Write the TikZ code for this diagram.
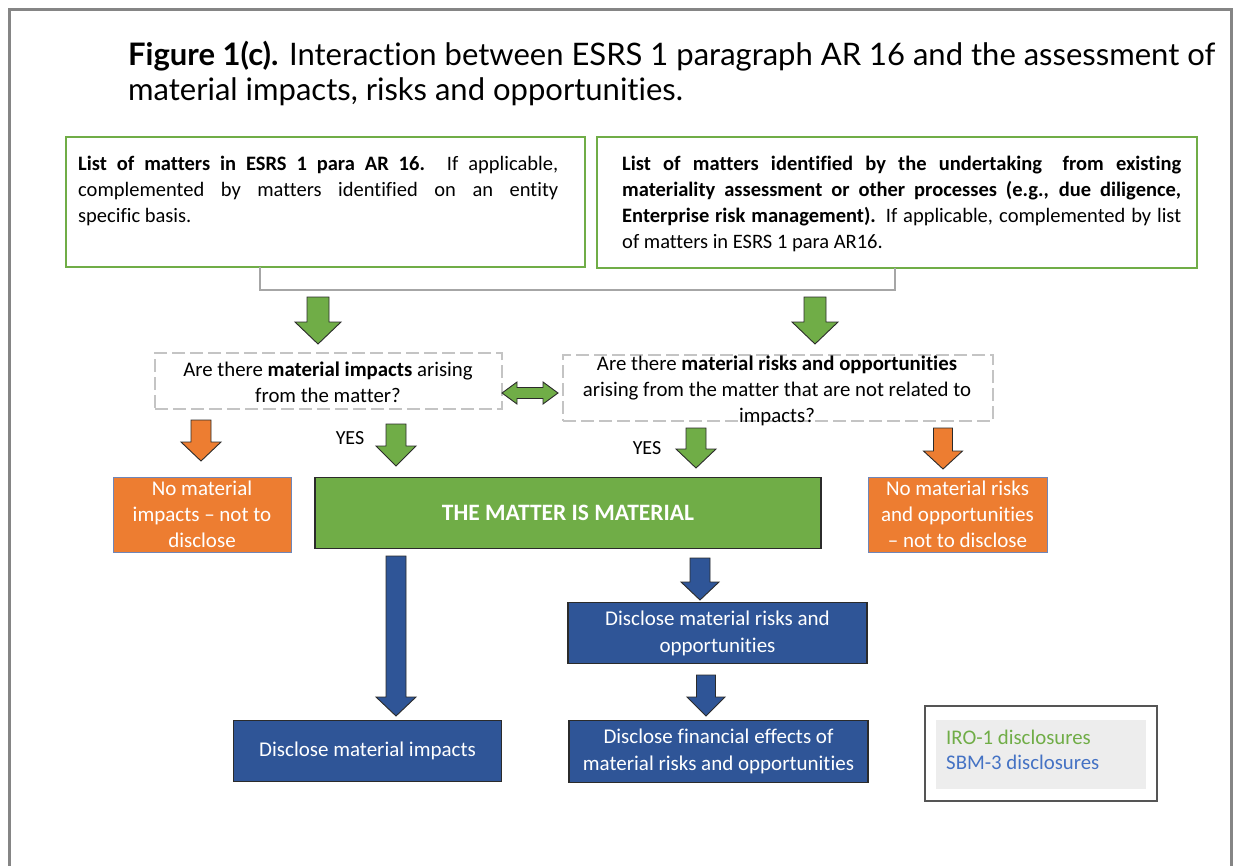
\documentclass[tikz,border=0pt]{standalone}
\usepackage{fontspec}
\setmainfont[Ligatures=NoCommon]{Carlito}
\newfontfamily\titlefont[Ligatures=NoCommon]{Lato}
\definecolor{mgreen}{HTML}{70AD47}
\definecolor{morange}{HTML}{ED7D31}
\definecolor{mblue}{HTML}{2F5597}
\definecolor{lblue}{HTML}{4472C4}
\definecolor{conngray}{HTML}{A6A6A6}
\definecolor{framegray}{HTML}{858585}
\definecolor{dashgray}{HTML}{C4C4C4}
\definecolor{legfill}{HTML}{EDEDED}
\definecolor{outl}{HTML}{2B2B2B}
\definecolor{obord}{HTML}{6F86B8}
\newcommand\blockdown[7]{%
  \draw[#7] (#1-#4,#2) -- (#1+#4,#2) -- (#1+#4,#3-#6) -- (#1+#5,#3-#6) -- (#1,#3)
    -- (#1-#5,#3-#6) -- (#1-#4,#3-#6) -- cycle;}
\tikzset{
  boxbase/.style={inner sep=0pt, outer sep=0pt, anchor=center},
  topbox/.style={boxbase, draw=mgreen, line width=1.8pt},
  qbox/.style={boxbase, draw=dashgray, line width=1.6pt, dash pattern=on 13pt off 5pt},
  orbox/.style={boxbase, fill=morange, draw=obord, line width=1pt, text=white, align=center,
     font=\fontsize{21}{26}\selectfont},
  grbox/.style={boxbase, fill=mgreen, draw=outl, line width=1.2pt, text=white,
     font=\bfseries\fontsize{23.5}{26}\selectfont},
  blbox/.style={boxbase, fill=mblue, draw=outl, line width=1.2pt, text=white, align=center,
     font=\fontsize{21}{27}\selectfont},
  boxtext/.style={inner sep=0pt, align=justify, font=\fontsize{20.5}{26}\selectfont, anchor=north west},
  qtext/.style={inner sep=0pt, align=center, font=\fontsize{20.8}{26}\selectfont},
  yestext/.style={inner sep=0pt, font=\fontsize{20}{22}\selectfont},
  garrow/.style={fill=mgreen, draw=outl, line width=0.9pt, line join=miter},
  oarrow/.style={fill=morange, draw=outl, line width=0.9pt, line join=miter},
  barrow/.style={fill=mblue, draw=outl, line width=0.9pt, line join=miter},
  conn/.style={draw=conngray, line width=2.6pt},
  frameline/.style={draw=framegray, line width=3pt},
  titletext/.style={inner sep=0pt, anchor=base west, font=\titlefont\fontsize{31}{35}\selectfont},
  legtext/.style={inner sep=0pt, anchor=base west, font=\fontsize{20.8}{25}\selectfont},
}
\begin{document}
\begin{tikzpicture}[x=1pt,y=-1pt]
\useasboundingbox (0,0) rectangle (1233,865);
% frame
\draw[frameline] (9,866) -- (9,9) -- (1231,9) -- (1231,866);
% title
\node[titletext] (title1) at (128,65) {\textbf{Figure 1(c).} Interaction between ESRS 1 paragraph AR 16 and the assessment of};
\node[titletext] (title2) at (128,100) {material impacts, risks and opportunities.};
% top boxes
\node[topbox, minimum width=519pt, minimum height=130pt] (tl) at (325.5,202) {};
\node[topbox, minimum width=600pt, minimum height=131pt] (tr) at (897,202.5) {};
\node[boxtext, text width=480pt] (tlt) at (78,155.5) {\textbf{List of matters in ESRS 1 para AR 16.} If applicable,\linebreak complemented by matters identified on an entity\linebreak specific basis.};
\node[boxtext, text width=559pt] (trt) at (622,155.5) {\textbf{List of matters identified by the undertaking\quad from existing\linebreak materiality assessment or other processes (e.g., due diligence,\linebreak Enterprise risk management).} If applicable, complemented by list\linebreak of matters in ESRS 1 para AR16.};
% connector
\coordinate (c1) at (260,290);
\coordinate (c2) at (895,290);
\draw[conn] (tl.south -| c1) -- (c1) -- (c2) -- (tr.south -| c2);
% green arrows to questions
\blockdown{318}{297}{344}{11}{23}{22}{garrow}
\blockdown{815}{297}{344}{11}{23}{22}{garrow}
% question boxes
\node[qbox, minimum width=347pt, minimum height=56pt] (q1) at (328.5,381) {};
\node[qbox, minimum width=430pt, minimum height=66pt] (q2) at (778,388) {};
\node[qtext] (q1t) at (328,382) {Are there \textbf{material impacts} arising\\from the matter?};
\node[qtext] (q2t) at (777,391) {Are there \textbf{material risks and opportunities}\\arising from the matter that are not related to\\impacts?};
% double arrow
\draw[garrow] (502,393) -- (517,382) -- (517,387.5) -- (543,387.5) -- (543,382)
  -- (558,393) -- (543,404) -- (543,398.5) -- (517,398.5) -- (517,404) -- cycle;
% decision arrows
\blockdown{201}{420}{461}{10}{20}{19}{oarrow}
\blockdown{396}{424}{466}{10}{20}{20}{garrow}
\blockdown{696}{428}{468}{10}{20}{19}{garrow}
\blockdown{943}{428}{469}{9.5}{19.5}{18}{oarrow}
\node[yestext] (yes1) at (350,438) {YES};
\node[yestext] (yes2) at (647,448) {YES};
% outcome boxes
\node[orbox, minimum width=178pt, minimum height=75pt] (nol) at (202,514.5) {No material\\impacts -- not to\\disclose};
\node[grbox, minimum width=506pt, minimum height=71pt] (mat) at (568,513) {THE MATTER IS MATERIAL};
\node[orbox, minimum width=179pt, minimum height=75pt] (nor) at (957.5,514.5) {No material risks\\and opportunities\\-- not to disclose};
% blue arrows
\blockdown{396}{556}{716}{10}{20}{19}{barrow}
\blockdown{700}{558}{600}{10}{19}{18}{barrow}
\blockdown{706}{675}{716}{9.5}{19}{19}{barrow}
% blue boxes
\node[blbox, minimum width=299pt, minimum height=61pt] (dro) at (717.5,633) {Disclose material risks and\\opportunities};
\node[blbox, minimum width=268pt, minimum height=61pt] (dmi) at (367.5,751) {Disclose material impacts};
\node[blbox, minimum width=299pt, minimum height=62pt] (dfe) at (718.5,751.5) {Disclose financial effects of\\material risks and opportunities};
% legend
\node[boxbase, draw=outl!80, line width=1.2pt, minimum width=232pt, minimum height=95pt] (leg) at (1041,753.5) {};
\node[boxbase, fill=legfill, minimum width=210pt, minimum height=69pt] (legin) at (1041,754.5) {};
\node[legtext, text=mgreen] (iro) at (946,744) {IRO-1 disclosures};
\node[legtext, text=lblue] (sbm) at (946,769) {SBM-3 disclosures};
\end{tikzpicture}
\end{document}
